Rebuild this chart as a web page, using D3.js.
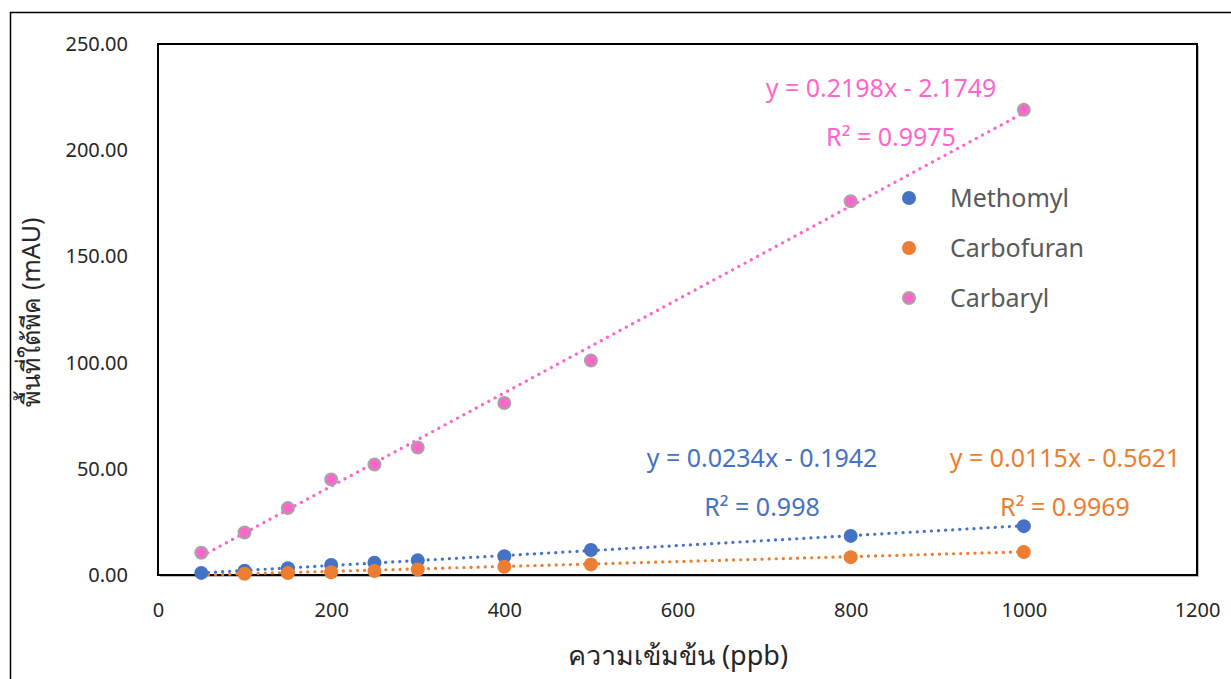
<!DOCTYPE html>
<html lang="th">
<head>
<meta charset="UTF-8">
<title>Calibration curves</title>
<script src="https://cdn.jsdelivr.net/npm/d3@7"></script>
<style>
  body { margin: 0; background: #fff; font-family: "Noto Sans", "Open Sans", sans-serif; }
  svg { display: block; }
</style>
</head>
<body>
<svg id="chart" width="1231" height="679"></svg>
<script>
// concentration (ppb)
const conc = [50, 100, 150, 200, 250, 300, 400, 500, 800, 1000];

const seriesNames = ["Methomyl", "Carbofuran", "Carbaryl"];
const methomyl   = [1.0, 2.0, 3.2, 4.7, 5.8, 6.9, 8.8, 11.8, 18.4, 23.0];
const carbofuran = [-0.2, 0.6, 0.9, 1.3, 1.9, 2.6, 3.9, 5.0, 8.4, 10.8];
const carbaryl   = [10.5, 20.0, 31.5, 45.0, 52.0, 60.0, 81.0, 101.0, 176.0, 219.0];

// linear trendline coefficients
const slopes     = [0.0234, 0.0115, 0.2198];
const intercepts = [-0.1942, -0.5621, -2.1749];
const equations  = ["y = 0.0234x - 0.1942", "y = 0.0115x - 0.5621", "y = 0.2198x - 2.1749"];
const rSquared   = ["R² = 0.998", "R² = 0.9969", "R² = 0.9975"];

const xTicks = [0, 200, 400, 600, 800, 1000, 1200];
const yTicks = [0, 50, 100, 150, 200, 250];

const colors  = ["#4472C4", "#ED7D31", "#FF66CC"];
const strokes = [null, null, "#A5A5A5"];

const svg = d3.select("#chart");
const plot = { left: 158, top: 44, right: 1197, bottom: 575 };

const x = d3.scaleLinear().domain([0, 1200]).range([plot.left, plot.right]);
const y = d3.scaleLinear().domain([0, 250]).range([plot.bottom, plot.top]);

// outer frame
svg.append("rect")
  .attr("x", 10.5).attr("y", 12.5)
  .attr("width", 1240).attr("height", 700)
  .attr("fill", "none").attr("stroke", "#000").attr("stroke-width", 1.5);

// plot area with slight shadow
svg.append("rect")
  .attr("x", plot.left + 2).attr("y", plot.top + 2)
  .attr("width", plot.right - plot.left).attr("height", plot.bottom - plot.top)
  .attr("fill", "#bdbdbd");
svg.append("rect")
  .attr("x", plot.left).attr("y", plot.top)
  .attr("width", plot.right - plot.left).attr("height", plot.bottom - plot.top)
  .attr("fill", "#fff").attr("stroke", "#000").attr("stroke-width", 2);

// axes (labels only, no tick marks)
const xAxis = svg.append("g")
  .attr("transform", `translate(0,${plot.bottom})`)
  .call(d3.axisBottom(x).tickValues(xTicks).tickSize(0).tickPadding(28).tickFormat(d3.format("d")));
const yAxis = svg.append("g")
  .attr("transform", `translate(${plot.left},0)`)
  .call(d3.axisLeft(y).tickValues(yTicks).tickSize(0).tickPadding(30).tickFormat(d3.format(".2f")));
[xAxis, yAxis].forEach(a => {
  a.select(".domain").remove();
  a.selectAll("text")
    .attr("fill", "#262626")
    .style("font-family", "'Noto Sans', sans-serif")
    .style("font-size", "20px");
});

const allSeries = [methomyl, carbofuran, carbaryl];

// trendlines
allSeries.forEach((vals, i) => {
  const x0 = d3.min(conc), x1 = d3.max(conc);
  svg.append("line")
    .attr("x1", x(x0)).attr("y1", y(slopes[i] * x0 + intercepts[i]))
    .attr("x2", x(x1)).attr("y2", y(slopes[i] * x1 + intercepts[i]))
    .attr("stroke", colors[i]).attr("stroke-width", 3.2)
    .attr("stroke-linecap", "round")
    .attr("stroke-dasharray", "0.1 7");
});

// markers
allSeries.forEach((vals, i) => {
  const pts = conc.map((c, j) => ({ c, v: vals[j] })).filter(d => d.v >= 0);
  svg.append("g").selectAll("circle")
    .data(pts)
    .join("circle")
    .attr("cx", d => x(d.c))
    .attr("cy", d => y(d.v))
    .attr("r", strokes[i] ? 6 : 7)
    .attr("fill", colors[i])
    .attr("stroke", strokes[i] || "none")
    .attr("stroke-width", 2);
});

// trendline labels
const eqPos = [[762, 467], [1065, 467], [881, 97]];
const rPos  = [[762, 516], [1065, 516], [891, 146]];
allSeries.forEach((vals, i) => {
  svg.append("text").attr("x", eqPos[i][0]).attr("y", eqPos[i][1])
    .attr("text-anchor", "middle").attr("fill", colors[i])
    .style("font-size", "25px").text(equations[i]);
  svg.append("text").attr("x", rPos[i][0]).attr("y", rPos[i][1])
    .attr("text-anchor", "middle").attr("fill", colors[i])
    .style("font-size", "25px").text(rSquared[i]);
});

// legend
const legend = svg.append("g").attr("transform", "translate(909,198)");
seriesNames.forEach((name, i) => {
  const g = legend.append("g").attr("transform", `translate(0,${i * 50})`);
  g.append("circle").attr("r", strokes[i] ? 6 : 7)
    .attr("fill", colors[i])
    .attr("stroke", strokes[i] || "none").attr("stroke-width", 2);
  g.append("text").attr("x", 41).attr("y", 9)
    .attr("fill", "#595959").style("font-size", "25px").text(name);
});

// axis titles
svg.append("text")
  .attr("x", 678).attr("y", 665)
  .attr("text-anchor", "middle").attr("fill", "#262626")
  .style("font-size", "27px")
  .text("ความเข้มข้น  (ppb)");
svg.append("text")
  .attr("transform", "translate(40,312) rotate(-90)")
  .attr("text-anchor", "middle").attr("fill", "#262626")
  .style("font-size", "25px")
  .text("พื้นที่ใต้พีค (mAU)");
</script>
</body>
</html>
